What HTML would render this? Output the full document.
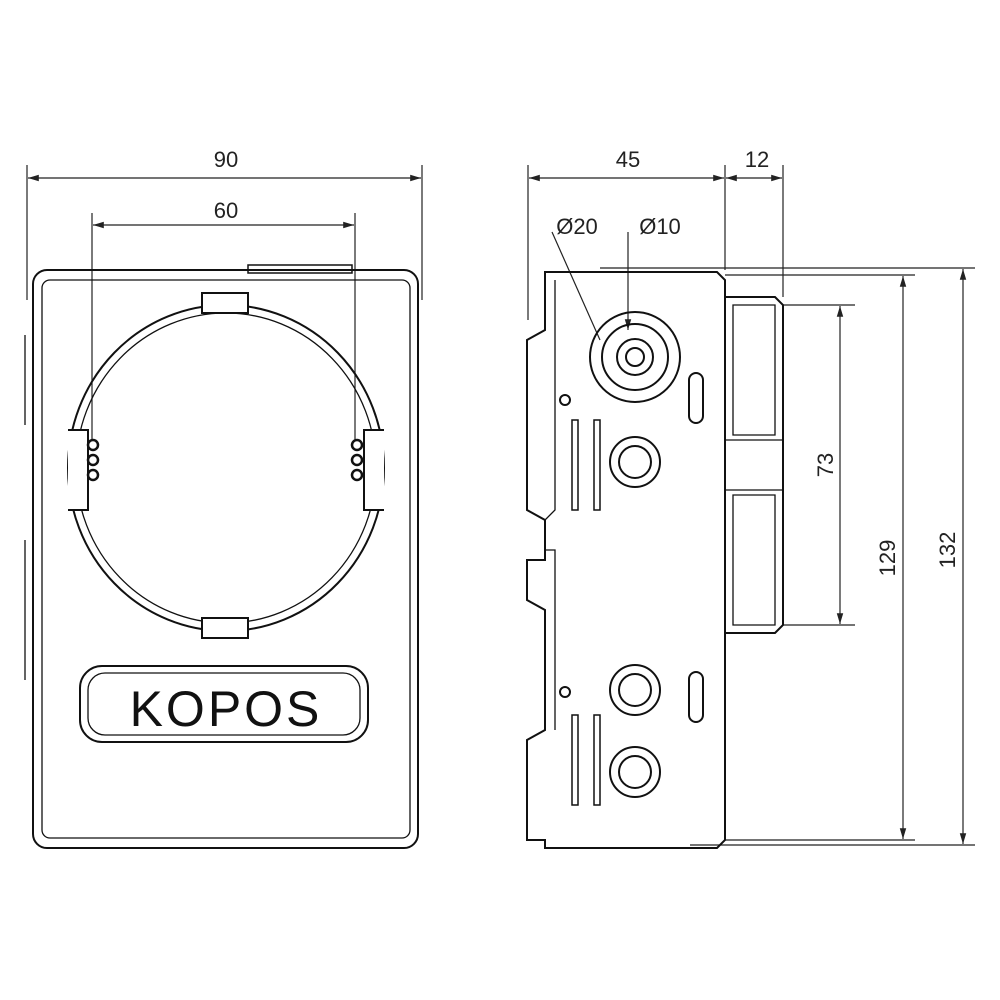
<!DOCTYPE html>
<html><head><meta charset="utf-8"><style>html,body{margin:0;background:#fff}svg{display:block}</style></head><body>
<svg width="1000" height="1000" viewBox="0 0 1000 1000" xmlns="http://www.w3.org/2000/svg" font-family="Liberation Sans, sans-serif">
<defs><marker id="a" viewBox="0 0 10 10" refX="10" refY="5" markerWidth="9" markerHeight="9" orient="auto-start-reverse"><path d="M0,2L10,5L0,8z" fill="#222"/></marker></defs>
<g stroke="#222" fill="none" stroke-width="1.2">
<!-- left view dims -->
<line x1="27" y1="165" x2="27" y2="300"/><line x1="422" y1="165" x2="422" y2="300"/>
<line x1="28" y1="178" x2="421" y2="178" marker-start="url(#a)" marker-end="url(#a)"/>
<line x1="92" y1="213" x2="92" y2="440"/><line x1="355" y1="213" x2="355" y2="440"/>
<line x1="93" y1="225" x2="354" y2="225" marker-start="url(#a)" marker-end="url(#a)"/>
</g>
<g stroke="#111" fill="none" stroke-width="2">
<rect x="33" y="270" width="385" height="578" rx="14"/>
<rect x="42" y="280" width="368" height="558" rx="8" stroke-width="1.3"/>
<rect x="248" y="265" width="104" height="8" stroke-width="1.5"/>
<ellipse cx="226" cy="468" rx="158" ry="163"/>
<ellipse cx="226" cy="468" rx="150" ry="155" stroke-width="1.3"/>
<rect x="202" y="293" width="46" height="20" fill="#fff"/>
<rect x="202" y="618" width="46" height="20" fill="#fff"/>
<path d="M68 430h20v80h-20" fill="#fff"/><path d="M384 430h-20v80h20" fill="#fff"/>
<rect x="80" y="666" width="288" height="76" rx="22"/>
<rect x="88" y="673" width="272" height="62" rx="17" stroke-width="1.3"/>
<path d="M25 335v90M25 540v140M418 310v120M418 540v150" stroke-width="1.3"/>
</g>
<g stroke="#111" fill="none" stroke-width="2.5">
<circle cx="93" cy="445" r="5"/><circle cx="93" cy="460" r="5"/><circle cx="93" cy="475" r="5"/>
<circle cx="357" cy="445" r="5"/><circle cx="357" cy="460" r="5"/><circle cx="357" cy="475" r="5"/>
</g>
<text x="226" y="726" font-size="50" text-anchor="middle" fill="#111" letter-spacing="3">KOPOS</text>
<text x="226" y="167" font-size="22" text-anchor="middle" fill="#222">90</text>
<text x="226" y="218" font-size="22" text-anchor="middle" fill="#222">60</text>
<!-- right view dims -->
<g stroke="#222" fill="none" stroke-width="1.2">
<line x1="528" y1="165" x2="528" y2="320"/><line x1="725" y1="165" x2="725" y2="270"/><line x1="783" y1="165" x2="783" y2="297"/>
<line x1="529" y1="178" x2="724" y2="178" marker-start="url(#a)" marker-end="url(#a)"/>
<line x1="726" y1="178" x2="782" y2="178" marker-start="url(#a)" marker-end="url(#a)"/>
<line x1="783" y1="305" x2="855" y2="305"/><line x1="783" y1="625" x2="855" y2="625"/>
<line x1="840" y1="306" x2="840" y2="624" marker-start="url(#a)" marker-end="url(#a)"/>
<line x1="725" y1="275" x2="915" y2="275"/><line x1="725" y1="840" x2="915" y2="840"/>
<line x1="903" y1="276" x2="903" y2="839" marker-start="url(#a)" marker-end="url(#a)"/>
<line x1="600" y1="268" x2="975" y2="268"/><line x1="690" y1="845" x2="975" y2="845"/>
<line x1="963" y1="269" x2="963" y2="844" marker-start="url(#a)" marker-end="url(#a)"/>
<line x1="552" y1="232" x2="600" y2="340"/><line x1="628" y1="232" x2="628" y2="330" marker-end="url(#a)"/>
</g>
<text x="628" y="167" font-size="22" text-anchor="middle" fill="#222">45</text>
<text x="757" y="167" font-size="22" text-anchor="middle" fill="#222">12</text>
<text x="577" y="234" font-size="22" text-anchor="middle" fill="#222">Ø20</text>
<text x="660" y="234" font-size="22" text-anchor="middle" fill="#222">Ø10</text>
<text font-size="22" fill="#222" text-anchor="middle" transform="translate(833,465) rotate(-90)">73</text>
<text font-size="22" fill="#222" text-anchor="middle" transform="translate(895,558) rotate(-90)">129</text>
<text font-size="22" fill="#222" text-anchor="middle" transform="translate(955,550) rotate(-90)">132</text>
<g stroke="#111" fill="none" stroke-width="2">
<path d="M545 272h172l8 8v560l-8 8h-172v-8h-18v-100l18-10v-120l-18-10v-40h18v-40l-18-10v-170l18-10v-40z"/>
<path d="M725 297h50l8 8v320l-8 8h-50z"/>
<path d="M733 305h42v130h-42zM733 495h42v130h-42z" stroke-width="1.3"/>
<path d="M725 440h58M725 490h58" stroke-width="1.3"/>
<path d="M555 280v230l-10 10v30h10v180" stroke-width="1.3"/>
<rect x="572" y="420" width="6" height="90" stroke-width="1.5"/><rect x="594" y="420" width="6" height="90" stroke-width="1.5"/>
<rect x="572" y="715" width="6" height="90" stroke-width="1.5"/><rect x="594" y="715" width="6" height="90" stroke-width="1.5"/>
<rect x="689" y="373" width="14" height="50" rx="7"/><rect x="689" y="672" width="14" height="50" rx="7"/>
<circle cx="565" cy="400" r="5"/><circle cx="565" cy="692" r="5"/>
<circle cx="635" cy="357" r="45"/><circle cx="635" cy="357" r="33"/><circle cx="635" cy="357" r="18"/><circle cx="635" cy="357" r="9"/>
<circle cx="635" cy="462" r="25"/><circle cx="635" cy="462" r="16"/>
<circle cx="635" cy="690" r="25"/><circle cx="635" cy="690" r="16"/>
<circle cx="635" cy="772" r="25"/><circle cx="635" cy="772" r="16"/>
</g>
</svg>
</body></html>
